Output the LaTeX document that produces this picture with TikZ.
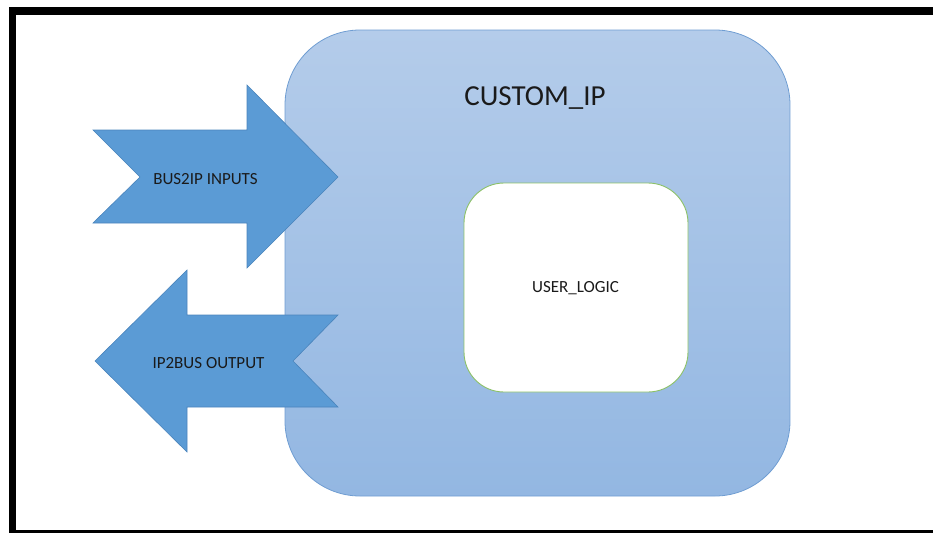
\documentclass[tikz,border=0pt]{standalone}
\usepackage{fontspec}
\setmainfont{Carlito}
\definecolor{arrowblue}{HTML}{5B9BD5}
\definecolor{arrowedge}{HTML}{4A84BC}
\definecolor{boxtop}{HTML}{B4CCEA}
\definecolor{boxbot}{HTML}{93B7E2}
\definecolor{boxedge}{HTML}{6F9DD2}
\definecolor{greenedge}{HTML}{8CC168}
\definecolor{txt}{HTML}{1A1A1A}
\begin{document}
\begin{tikzpicture}[x=1pt,y=-1pt,
  frame/.style={fill=black,draw=none},
  bigbox/.style={draw=boxedge,line width=0.8pt,top color=boxtop,bottom color=boxbot,rounded corners=75pt,minimum width=505pt,minimum height=466pt,inner sep=0pt},
  innerbox/.style={draw=greenedge,line width=0.9pt,fill=white,rounded corners=40pt,minimum width=224pt,minimum height=209pt,inner sep=0pt},
  blockarrow/.style={fill=arrowblue,draw=arrowedge,line width=0.6pt,line join=miter},
  lbl/.style={text=txt,font=\fontsize{17}{20}\selectfont,inner sep=0pt,anchor=base},
  title/.style={text=txt,font=\fontsize{29}{34}\selectfont,inner sep=0pt,anchor=base}]
\useasboundingbox (0,0) rectangle (933,533);
% frame
\fill[frame] (9,7) rectangle (933,15);
\fill[frame] (9,7) rectangle (16,533);
\fill[frame] (9,529.5) rectangle (933,533);
% custom ip block
\node[bigbox] (custom) at (537.5,263) {};
\node[title] (customlbl) at (535,105) {CUSTOM\_IP};
\node[innerbox] (user) at (576,287.5) {};
\node[lbl] (userlbl) at (575.5,292) {USER\_LOGIC};
% BUS2IP arrow (pointing right)
\path[blockarrow] (93,130) -- (247,130) -- (247,85) -- (338,177) -- (247,268) -- (247,223) -- (93,223) -- (140,177) -- cycle;
\node[lbl] (inlbl) at (205.5,184) {BUS2IP INPUTS};
% IP2BUS arrow (pointing left)
\path[blockarrow] (338,315) -- (187,315) -- (187,270) -- (95,361) -- (187,452) -- (187,407) -- (338,407) -- (293,361) -- cycle;
\node[lbl] (outlbl) at (208.5,368) {IP2BUS OUTPUT};
\end{tikzpicture}
\end{document}
